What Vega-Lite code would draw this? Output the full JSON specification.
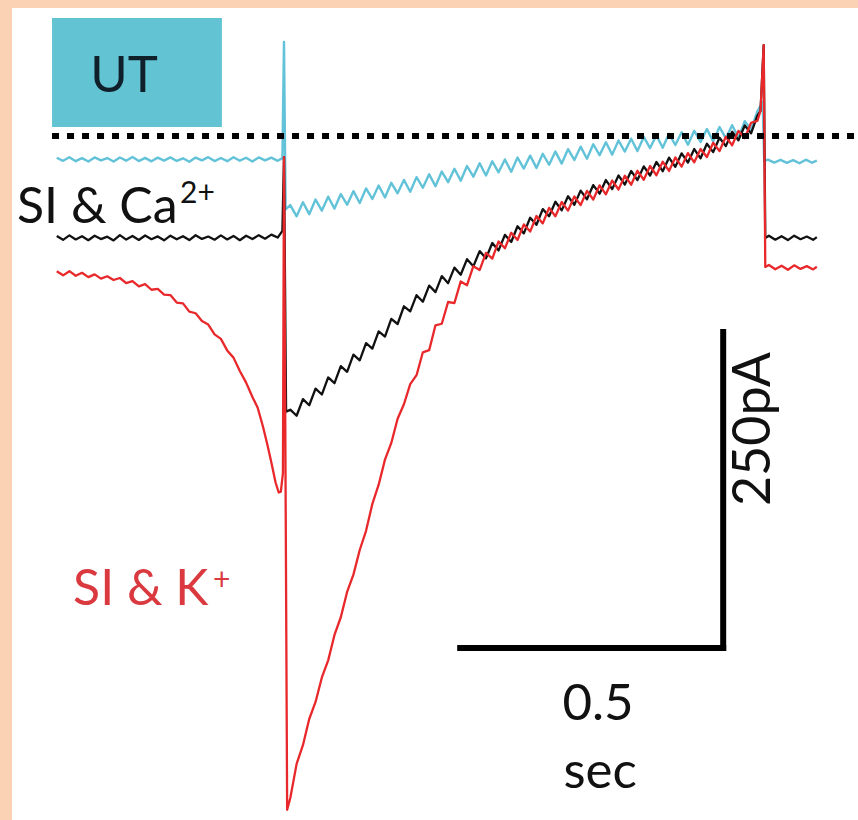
{
  "$schema": "https://vega.github.io/schema/vega-lite/v6.json",
  "width": 858,
  "height": 820,
  "autosize": {"type": "fit", "contains": "padding"},
  "padding": {"left": 12, "top": 8, "right": 0, "bottom": 0},
  "background": "#FBD3B4",
  "config": {"view": {"stroke": null, "fill": "white"}},
  "datasets": {
    "ut": [
      {"t": -432, "i": -17.2}, {"t": -420, "i": -19.6}, {"t": -408, "i": -16.8}, {"t": -396, "i": -19.9}, {"t": -384, "i": -17.5}, {"t": -372, "i": -20.1}, {"t": -360, "i": -16.9}, {"t": -348, "i": -19.3}, {"t": -336, "i": -17.4}, {"t": -324, "i": -20.2}, {"t": -312, "i": -17.0}, {"t": -300, "i": -19.5}, {"t": -288, "i": -16.6}, {"t": -276, "i": -19.8}, {"t": -264, "i": -17.3}, {"t": -252, "i": -20.0}, {"t": -240, "i": -17.1}, {"t": -228, "i": -19.4}, {"t": -216, "i": -16.9}, {"t": -204, "i": -19.7}, {"t": -192, "i": -17.6}, {"t": -180, "i": -20.3}, {"t": -168, "i": -17.0}, {"t": -156, "i": -19.2}, {"t": -144, "i": -16.7}, {"t": -132, "i": -19.8}, {"t": -120, "i": -17.4}, {"t": -108, "i": -19.9}, {"t": -96, "i": -16.8}, {"t": -84, "i": -19.5}, {"t": -72, "i": -17.2}, {"t": -60, "i": -20.1}, {"t": -48, "i": -16.9}, {"t": -36, "i": -19.3}, {"t": -24, "i": -17.1}, {"t": -12, "i": -19.6}, {"t": -3, "i": -17.5},
      {"t": 0, "i": 74.4}, {"t": 3, "i": -58.0},
      {"t": 12, "i": -54.6}, {"t": 24, "i": -63.5}, {"t": 36, "i": -52.4}, {"t": 48, "i": -61.8}, {"t": 60, "i": -50.2}, {"t": 72, "i": -59.0}, {"t": 84, "i": -48.0}, {"t": 96, "i": -57.4}, {"t": 108, "i": -45.9}, {"t": 120, "i": -54.3}, {"t": 132, "i": -43.6}, {"t": 144, "i": -53.0}, {"t": 156, "i": -41.4}, {"t": 168, "i": -49.8}, {"t": 180, "i": -39.2}, {"t": 192, "i": -48.6}, {"t": 204, "i": -37.0}, {"t": 216, "i": -45.3}, {"t": 228, "i": -34.7}, {"t": 240, "i": -44.1}, {"t": 252, "i": -32.5}, {"t": 264, "i": -40.9}, {"t": 276, "i": -30.3}, {"t": 288, "i": -39.7}, {"t": 300, "i": -28.1}, {"t": 312, "i": -36.5}, {"t": 324, "i": -25.9}, {"t": 336, "i": -35.3}, {"t": 348, "i": -23.7}, {"t": 360, "i": -32.1}, {"t": 372, "i": -21.5}, {"t": 384, "i": -31.2}, {"t": 396, "i": -20.0}, {"t": 408, "i": -28.7}, {"t": 420, "i": -18.5}, {"t": 432, "i": -28.2}, {"t": 444, "i": -17.0}, {"t": 456, "i": -25.7}, {"t": 468, "i": -15.5}, {"t": 480, "i": -25.2}, {"t": 492, "i": -14.0}, {"t": 504, "i": -22.7}, {"t": 516, "i": -12.3}, {"t": 528, "i": -21.8}, {"t": 540, "i": -10.4}, {"t": 552, "i": -18.9}, {"t": 564, "i": -8.4}, {"t": 576, "i": -18.0}, {"t": 588, "i": -6.5}, {"t": 600, "i": -15.1}, {"t": 612, "i": -4.9}, {"t": 624, "i": -14.7}, {"t": 636, "i": -3.5}, {"t": 648, "i": -12.3}, {"t": 660, "i": -2.1}, {"t": 672, "i": -11.9}, {"t": 684, "i": -0.7}, {"t": 696, "i": -9.5}, {"t": 708, "i": 0.6}, {"t": 720, "i": -9.3}, {"t": 732, "i": 1.8}, {"t": 744, "i": -7.1}, {"t": 756, "i": 3.0}, {"t": 768, "i": -6.9}, {"t": 780, "i": 4.2}, {"t": 792, "i": -4.7}, {"t": 804, "i": 5.6}, {"t": 816, "i": -4.2}, {"t": 828, "i": 7.1}, {"t": 840, "i": -1.7}, {"t": 852, "i": 8.6}, {"t": 864, "i": -1.2}, {"t": 876, "i": 11.8}, {"t": 888, "i": 5.0}, {"t": 900, "i": 19.5}, {"t": 906, "i": 24.0}, {"t": 910, "i": 27.0}, {"t": 913, "i": -19.8},
      {"t": 920, "i": -18.6}, {"t": 932, "i": -21.0}, {"t": 944, "i": -18.8}, {"t": 956, "i": -21.2}, {"t": 968, "i": -19.0}, {"t": 980, "i": -21.5}, {"t": 992, "i": -18.7}, {"t": 1004, "i": -21.1}, {"t": 1013, "i": -19.4}
    ],
    "ca": [
      {"t": -432, "i": -79.0}, {"t": -420, "i": -82.1}, {"t": -408, "i": -78.6}, {"t": -396, "i": -81.8}, {"t": -384, "i": -79.3}, {"t": -372, "i": -82.4}, {"t": -360, "i": -78.9}, {"t": -348, "i": -81.5}, {"t": -336, "i": -79.6}, {"t": -324, "i": -82.6}, {"t": -312, "i": -78.4}, {"t": -300, "i": -81.9}, {"t": -288, "i": -79.1}, {"t": -276, "i": -82.2}, {"t": -264, "i": -78.7}, {"t": -252, "i": -81.6}, {"t": -240, "i": -79.4}, {"t": -228, "i": -82.5}, {"t": -216, "i": -78.8}, {"t": -204, "i": -81.7}, {"t": -192, "i": -79.2}, {"t": -180, "i": -82.3}, {"t": -168, "i": -78.5}, {"t": -156, "i": -81.4}, {"t": -144, "i": -79.5}, {"t": -132, "i": -82.0}, {"t": -120, "i": -78.6}, {"t": -108, "i": -81.8}, {"t": -96, "i": -79.0}, {"t": -84, "i": -82.4}, {"t": -72, "i": -78.9}, {"t": -60, "i": -81.5}, {"t": -48, "i": -78.4}, {"t": -36, "i": -81.2}, {"t": -24, "i": -78.0}, {"t": -12, "i": -80.3}, {"t": -3, "i": -75.0},
      {"t": 0, "i": -16.6}, {"t": 4, "i": -218.0},
      {"t": 12, "i": -216.5}, {"t": 24, "i": -221.3}, {"t": 36, "i": -208.1}, {"t": 48, "i": -213.0}, {"t": 60, "i": -199.8}, {"t": 72, "i": -204.5}, {"t": 84, "i": -191.0}, {"t": 96, "i": -195.5}, {"t": 108, "i": -182.0}, {"t": 120, "i": -186.5}, {"t": 132, "i": -172.9}, {"t": 144, "i": -177.4}, {"t": 156, "i": -163.8}, {"t": 168, "i": -168.2}, {"t": 180, "i": -154.6}, {"t": 192, "i": -158.7}, {"t": 204, "i": -144.7}, {"t": 216, "i": -148.7}, {"t": 228, "i": -134.7}, {"t": 240, "i": -138.7}, {"t": 252, "i": -125.9}, {"t": 264, "i": -131.1}, {"t": 276, "i": -118.3}, {"t": 288, "i": -123.5}, {"t": 300, "i": -110.8}, {"t": 312, "i": -116.4}, {"t": 324, "i": -104.1}, {"t": 336, "i": -109.7}, {"t": 348, "i": -97.4}, {"t": 360, "i": -103.1}, {"t": 372, "i": -91.0}, {"t": 384, "i": -96.8}, {"t": 396, "i": -84.6}, {"t": 408, "i": -90.5}, {"t": 420, "i": -78.2}, {"t": 432, "i": -83.8}, {"t": 444, "i": -71.4}, {"t": 456, "i": -77.0}, {"t": 468, "i": -64.6}, {"t": 480, "i": -70.2}, {"t": 492, "i": -57.8}, {"t": 504, "i": -63.4}, {"t": 516, "i": -52.0}, {"t": 528, "i": -58.8}, {"t": 540, "i": -47.6}, {"t": 552, "i": -54.4}, {"t": 564, "i": -43.2}, {"t": 576, "i": -50.0}, {"t": 588, "i": -38.8}, {"t": 600, "i": -45.6}, {"t": 612, "i": -34.8}, {"t": 624, "i": -42.0}, {"t": 636, "i": -31.2}, {"t": 648, "i": -38.4}, {"t": 660, "i": -27.6}, {"t": 672, "i": -34.8}, {"t": 684, "i": -24.0}, {"t": 696, "i": -31.2}, {"t": 708, "i": -20.5}, {"t": 720, "i": -27.8}, {"t": 732, "i": -17.1}, {"t": 744, "i": -24.4}, {"t": 756, "i": -13.7}, {"t": 768, "i": -21.0}, {"t": 780, "i": -10.3}, {"t": 792, "i": -17.6}, {"t": 804, "i": -6.1}, {"t": 816, "i": -12.7}, {"t": 828, "i": -1.4}, {"t": 840, "i": -8.0}, {"t": 852, "i": 3.4}, {"t": 864, "i": -3.3}, {"t": 876, "i": 8.4}, {"t": 888, "i": 2.1}, {"t": 900, "i": 16.1}, {"t": 906, "i": 20.0}, {"t": 912, "i": 72.0}, {"t": 915, "i": -80.7},
      {"t": 922, "i": -78.9}, {"t": 934, "i": -82.0}, {"t": 946, "i": -79.2}, {"t": 958, "i": -82.3}, {"t": 970, "i": -78.8}, {"t": 982, "i": -81.6}, {"t": 994, "i": -79.5}, {"t": 1006, "i": -82.1}, {"t": 1013, "i": -80.0}
    ],
    "k": [
      {"t": -432, "i": -107.0}, {"t": -420, "i": -110.2}, {"t": -408, "i": -106.9}, {"t": -396, "i": -110.5}, {"t": -384, "i": -108.2}, {"t": -372, "i": -111.6}, {"t": -360, "i": -109.4}, {"t": -348, "i": -112.8}, {"t": -336, "i": -110.9}, {"t": -324, "i": -113.9}, {"t": -312, "i": -112.3}, {"t": -300, "i": -116.4}, {"t": -288, "i": -114.8}, {"t": -276, "i": -118.9}, {"t": -264, "i": -117.2}, {"t": -252, "i": -121.6}, {"t": -240, "i": -120.9}, {"t": -228, "i": -125.5}, {"t": -216, "i": -125.8}, {"t": -204, "i": -131.7}, {"t": -192, "i": -132.4}, {"t": -180, "i": -138.9}, {"t": -168, "i": -140.2}, {"t": -156, "i": -146.4}, {"t": -144, "i": -149.1}, {"t": -132, "i": -156.9}, {"t": -120, "i": -160.5}, {"t": -108, "i": -169.6}, {"t": -96, "i": -175.3}, {"t": -84, "i": -185.9}, {"t": -72, "i": -195.1}, {"t": -60, "i": -206.4}, {"t": -50, "i": -215.0}, {"t": -40, "i": -229.8}, {"t": -32, "i": -243.5}, {"t": -24, "i": -258.2}, {"t": -16, "i": -274.1}, {"t": -10, "i": -282.0}, {"t": -6, "i": -281.3}, {"t": -2, "i": -266.6},
      {"t": 0, "i": -16.6}, {"t": 6, "i": -533.0},
      {"t": 12, "i": -523.7}, {"t": 24, "i": -496.7}, {"t": 36, "i": -481.9}, {"t": 48, "i": -461.2}, {"t": 60, "i": -447.7}, {"t": 72, "i": -428.3}, {"t": 84, "i": -414.8}, {"t": 96, "i": -394.7}, {"t": 108, "i": -380.7}, {"t": 120, "i": -360.7}, {"t": 132, "i": -347.0}, {"t": 144, "i": -327.5}, {"t": 156, "i": -312.3}, {"t": 168, "i": -291.0}, {"t": 180, "i": -275.8}, {"t": 192, "i": -256.0}, {"t": 204, "i": -242.8}, {"t": 216, "i": -223.6}, {"t": 228, "i": -212.2}, {"t": 240, "i": -196.2}, {"t": 252, "i": -189.2}, {"t": 264, "i": -171.1}, {"t": 276, "i": -169.4}, {"t": 288, "i": -149.7}, {"t": 300, "i": -148.5}, {"t": 312, "i": -131.3}, {"t": 324, "i": -132.1}, {"t": 336, "i": -115.0}, {"t": 348, "i": -118.0}, {"t": 360, "i": -103.0}, {"t": 372, "i": -106.0}, {"t": 384, "i": -92.4}, {"t": 396, "i": -97.0}, {"t": 408, "i": -83.4}, {"t": 420, "i": -88.8}, {"t": 432, "i": -76.5}, {"t": 444, "i": -82.2}, {"t": 456, "i": -69.9}, {"t": 468, "i": -75.6}, {"t": 480, "i": -63.3}, {"t": 492, "i": -69.1}, {"t": 504, "i": -56.8}, {"t": 516, "i": -63.4}, {"t": 528, "i": -52.2}, {"t": 540, "i": -59.0}, {"t": 552, "i": -47.8}, {"t": 564, "i": -54.6}, {"t": 576, "i": -43.4}, {"t": 588, "i": -50.2}, {"t": 600, "i": -39.0}, {"t": 612, "i": -46.1}, {"t": 624, "i": -35.2}, {"t": 636, "i": -42.3}, {"t": 648, "i": -31.4}, {"t": 660, "i": -38.5}, {"t": 672, "i": -27.5}, {"t": 684, "i": -34.6}, {"t": 696, "i": -23.7}, {"t": 708, "i": -31.0}, {"t": 720, "i": -20.3}, {"t": 732, "i": -27.6}, {"t": 744, "i": -16.9}, {"t": 756, "i": -24.2}, {"t": 768, "i": -13.5}, {"t": 780, "i": -20.8}, {"t": 792, "i": -10.2}, {"t": 804, "i": -16.6}, {"t": 816, "i": -5.3}, {"t": 828, "i": -11.9}, {"t": 840, "i": -0.6}, {"t": 852, "i": -7.3}, {"t": 864, "i": 4.1}, {"t": 876, "i": -1.7}, {"t": 888, "i": 10.5}, {"t": 900, "i": 12.0}, {"t": 906, "i": 20.0}, {"t": 912, "i": 72.0}, {"t": 915, "i": -103.6},
      {"t": 922, "i": -102.0}, {"t": 934, "i": -105.4}, {"t": 946, "i": -102.6}, {"t": 958, "i": -105.8}, {"t": 970, "i": -102.3}, {"t": 982, "i": -105.1}, {"t": 994, "i": -102.9}, {"t": 1006, "i": -105.5}, {"t": 1013, "i": -103.4}
    ]
  },
  "encoding": {
    "x": {"field": "t", "type": "quantitative", "scale": {"domain": [-517.1, 1091.3], "nice": false, "zero": false}, "axis": null},
    "y": {"field": "i", "type": "quantitative", "scale": {"domain": [-541.1, 101.3], "nice": false, "zero": false}, "axis": null}
  },
  "layer": [
    {
      "data": {"values": [{"t": -441, "t2": -118, "i": 93.4, "i2": 7.1}]},
      "mark": {"type": "rect", "color": "#62C4D3", "clip": true},
      "encoding": {"x2": {"field": "t2"}, "y2": {"field": "i2"}}
    },
    {
      "data": {"name": "ut"},
      "mark": {"type": "line", "color": "#62C2D8", "strokeWidth": 2.4, "strokeJoin": "round", "clip": true},
      "encoding": {}
    },
    {
      "data": {"name": "ca"},
      "mark": {"type": "line", "color": "#111111", "strokeWidth": 2.3, "strokeJoin": "round", "clip": true},
      "encoding": {}
    },
    {
      "data": {"name": "k"},
      "mark": {"type": "line", "color": "#E8282B", "strokeWidth": 2.3, "strokeJoin": "round", "clip": true},
      "encoding": {}
    },
    {
      "data": {"values": [{"t": -441, "t2": 1091, "i": 0}]},
      "mark": {"type": "rule", "color": "#000000", "strokeWidth": 6, "strokeDash": [7, 8], "strokeCap": "butt", "clip": true},
      "encoding": {"x2": {"field": "t2"}}
    },
    {
      "data": {"values": [
        {"bar": "0.5 sec", "t": 335, "t2": 835, "i": -405, "i2": -405},
        {"bar": "250 pA", "t": 835, "t2": 835, "i": -405, "i2": -155}
      ]},
      "mark": {"type": "rule", "color": "#000000", "strokeWidth": 6, "strokeCap": "square", "clip": true},
      "encoding": {"x2": {"field": "t2"}, "y2": {"field": "i2"}}
    },
    {
      "data": {"values": [{"t": -304, "i": 34.8, "txt": "UT"}]},
      "mark": {"type": "text", "font": "Lato", "fontSize": 51, "color": "#10202B", "align": "center", "baseline": "alphabetic", "clip": true},
      "encoding": {"text": {"field": "txt"}}
    },
    {
      "data": {"values": [{"t": -507.6, "i": -68.8, "txt": "SI & Ca"}, {"t": -401.1, "i": -371, "txt": "SI & K"}]},
      "mark": {"type": "text", "font": "Lato", "fontSize": 50, "align": "left", "baseline": "alphabetic", "clip": true},
      "encoding": {"text": {"field": "txt"}, "color": {"field": "txt", "type": "nominal", "scale": {"domain": ["SI & Ca", "SI & K"], "range": ["#111111", "#DA3A3F"]}, "legend": null}}
    },
    {
      "data": {"values": [{"t": -197.7, "i": -53.0, "txt": "2+"}, {"t": -135, "i": -359.2, "txt": "+"}]},
      "mark": {"type": "text", "font": "Lato", "fontSize": 30, "align": "left", "baseline": "alphabetic", "clip": true},
      "encoding": {"text": {"field": "txt"}, "color": {"field": "txt", "type": "nominal", "scale": {"domain": ["2+", "+"], "range": ["#111111", "#DA3A3F"]}, "legend": null}}
    },
    {
      "data": {"values": [{"t": 597, "i": -462, "txt": "0.5"}, {"t": 601, "i": -515.8, "txt": "sec"}]},
      "mark": {"type": "text", "font": "Lato", "fontSize": 51, "color": "#111111", "align": "center", "baseline": "alphabetic", "clip": true},
      "encoding": {"text": {"field": "txt"}}
    },
    {
      "data": {"values": [{"t": 924, "i": -231.8, "txt": "250pA"}]},
      "mark": {"type": "text", "font": "Lato", "fontSize": 52, "color": "#111111", "align": "center", "baseline": "alphabetic", "angle": 270, "clip": true},
      "encoding": {"text": {"field": "txt"}}
    }
  ]
}
